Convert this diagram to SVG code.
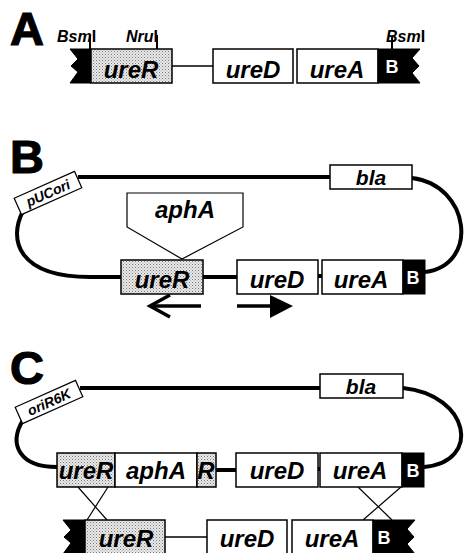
<svg xmlns="http://www.w3.org/2000/svg" width="466" height="553" viewBox="0 0 466 553">
<defs>
<pattern id="stip" width="3" height="3" patternUnits="userSpaceOnUse">
<rect width="3" height="3" fill="#e8e8e8"/>
<rect x="0" y="0" width="1" height="1" fill="#7a7a7a"/>
<rect x="1.5" y="1.5" width="1" height="1" fill="#a0a0a0"/>
</pattern>
</defs>
<style>
.box{fill:#fff;stroke:#000;stroke-width:1.5}
.st{fill:url(#stip);stroke:#000;stroke-width:1.5}
.blk{fill:#000;stroke:#000;stroke-width:1}
.g{font-family:"Liberation Sans",Arial,sans-serif;font-weight:bold;font-style:italic;font-size:24px;text-anchor:middle;fill:#000}
.b{font-family:"Liberation Sans",Arial,sans-serif;font-weight:bold;font-size:18px;text-anchor:middle;fill:#fff}
.big{font-family:"Liberation Sans",Arial,sans-serif;font-weight:bold;font-size:47px;fill:#000;stroke:#000;stroke-width:1.2}
.site{font-family:"Liberation Sans",Arial,sans-serif;font-weight:bold;font-style:italic;font-size:16px;fill:#000}
.up{font-style:normal}
.ori{font-family:"Liberation Sans",Arial,sans-serif;font-weight:bold;font-style:italic;font-size:14px;text-anchor:middle;fill:#000}
.bb{fill:none;stroke:#000;stroke-width:4}
.thin{fill:none;stroke:#000;stroke-width:1.5}
.x{fill:none;stroke:#000;stroke-width:1.2}
</style>
<rect width="466" height="553" fill="#fff"/>

<text class="big" x="10" y="45">A</text>
<text class="big" x="10" y="173">B</text>
<text class="big" x="10" y="384">C</text>

<g id="connectors">
<!-- A -->
<line class="thin" x1="172" y1="66" x2="213" y2="66"/>
<line class="thin" x1="90" y1="35" x2="90" y2="49" style="stroke-width:2"/>
<line class="thin" x1="157" y1="35" x2="157" y2="49" style="stroke-width:2"/>
<line class="thin" x1="392" y1="37" x2="392" y2="49" style="stroke-width:2"/>
<!-- B backbone -->
<path class="bb" d="M78 177 L330 177"/>
<path class="bb" d="M412 178 C470 185 480 265 425 272"/>
<path class="bb" d="M23 211 C8 240 18 277 90 277 L121 277"/>
<path class="bb" d="M203 277 L237 277"/>
<path class="bb" d="M318 276 L322 276"/>
<!-- B arrows -->
<line x1="201" y1="306" x2="151" y2="306" stroke="#000" stroke-width="3.5"/>
<polyline points="170,295 150,306 170,317" fill="none" stroke="#000" stroke-width="3.5"/>
<line x1="237" y1="306" x2="272" y2="306" stroke="#000" stroke-width="3.5"/>
<polygon points="270,295 293,306 270,318" fill="#000"/>
<!-- C backbone -->
<path class="bb" d="M80 388 L320 388"/>
<path class="bb" d="M403 388 C470 395 482 462 424 467"/>
<path class="bb" d="M23 420 C8 445 20 467 57 467"/>
<path class="bb" d="M216 470 L236 470"/>
<path class="bb" d="M318 469 L320 469"/>
<line class="thin" x1="165" y1="537" x2="207" y2="537"/>
<!-- crossovers -->
<line class="x" x1="78" y1="487" x2="107" y2="520"/>
<line class="x" x1="108" y1="487" x2="87" y2="520"/>
<line class="x" x1="358" y1="487" x2="392" y2="520"/>
<line class="x" x1="401" y1="487" x2="363" y2="520"/>
</g>

<!-- Panel A -->
<g id="A-site-bsm1"><text class="site" x="57" y="42">Bsm<tspan class="up">I</tspan></text></g>
<g id="A-site-nru"><text class="site" x="126" y="42">Nru<tspan class="up">I</tspan></text></g>
<g id="A-site-bsm2"><text class="site" x="386" y="42">Bsm<tspan class="up">I</tspan></text></g>
<g id="A-left-end"><polygon class="blk" points="70,49 91,49 91,83 70,83 78,72 71,66 78,59"/></g>
<g id="A-ureR"><rect class="st" x="91" y="49" width="81" height="34"/><text class="g" x="131" y="78">ureR</text></g>
<g id="A-ureD"><rect class="box" x="213" y="49" width="80" height="34"/><text class="g" x="253" y="78">ureD</text></g>
<g id="A-ureA"><rect class="box" x="297" y="49" width="81" height="34"/><text class="g" x="337" y="78">ureA</text></g>
<g id="A-B"><polygon class="blk" points="378,49 420,49 412,58 419,66 412,73 420,83 378,83"/><text class="b" x="392" y="73">B</text></g>

<!-- Panel B -->
<g id="B-pUCori"><g transform="translate(48,193) rotate(-24)"><rect class="box" x="-33" y="-9" width="66" height="18" style="stroke-width:1.2"/><text class="ori" x="0" y="5">pUCori</text></g></g>
<g id="B-bla"><rect class="box" x="330" y="165" width="82" height="24"/><text class="g" x="371" y="185" style="font-size:21px">bla</text></g>
<g id="B-aphA"><polygon class="box" points="127,193 243,193 243,227 182,259 127,227" style="stroke-width:1.2"/><text class="g" x="185" y="218">aphA</text></g>
<g id="B-ureR"><rect class="st" x="121" y="260" width="82" height="34"/><text class="g" x="162" y="288">ureR</text></g>
<g id="B-ureD"><rect class="box" x="237" y="260" width="81" height="34"/><text class="g" x="277" y="288">ureD</text></g>
<g id="B-ureA"><rect class="box" x="322" y="260" width="81" height="34"/><text class="g" x="361" y="288">ureA</text></g>
<g id="B-B"><rect class="blk" x="403" y="260" width="22" height="34"/><text class="b" x="413" y="284">B</text></g>

<!-- Panel C -->
<g id="C-oriR6K"><g transform="translate(49,402) rotate(-24)"><rect class="box" x="-33" y="-9" width="66" height="18" style="stroke-width:1.2"/><text class="ori" x="0" y="5">oriR6K</text></g></g>
<g id="C-bla"><rect class="box" x="320" y="374" width="83" height="24"/><text class="g" x="361" y="394" style="font-size:21px">bla</text></g>
<g id="C-ureR"><rect class="st" x="57" y="453" width="58" height="34"/><text class="g" x="86" y="479">ureR</text></g>
<g id="C-aphA"><rect class="box" x="115" y="453" width="82" height="34"/><text class="g" x="156" y="479">aphA</text></g>
<g id="C-R"><rect class="st" x="197" y="453" width="19" height="34"/><text class="g" x="206" y="479">R</text></g>
<g id="C-ureD"><rect class="box" x="236" y="453" width="82" height="34"/><text class="g" x="277" y="479">ureD</text></g>
<g id="C-ureA"><rect class="box" x="320" y="453" width="82" height="34"/><text class="g" x="360" y="479">ureA</text></g>
<g id="C-B"><rect class="blk" x="402" y="453" width="22" height="34"/><text class="b" x="413" y="477">B</text></g>

<g id="C2-left-end"><polygon class="blk" points="63,520 85,520 85,554 63,554 71,543 64,537 71,530"/></g>
<g id="C2-ureR"><rect class="st" x="85" y="520" width="80" height="34"/><text class="g" x="126" y="547">ureR</text></g>
<g id="C2-ureD"><rect class="box" x="207" y="520" width="80" height="34"/><text class="g" x="247" y="547">ureD</text></g>
<g id="C2-ureA"><rect class="box" x="292" y="520" width="81" height="34"/><text class="g" x="332" y="547">ureA</text></g>
<g id="C2-B"><polygon class="blk" points="373,520 415,520 407,529 414,537 407,544 415,554 373,554"/><text class="b" x="384" y="544">B</text></g>
</svg>
